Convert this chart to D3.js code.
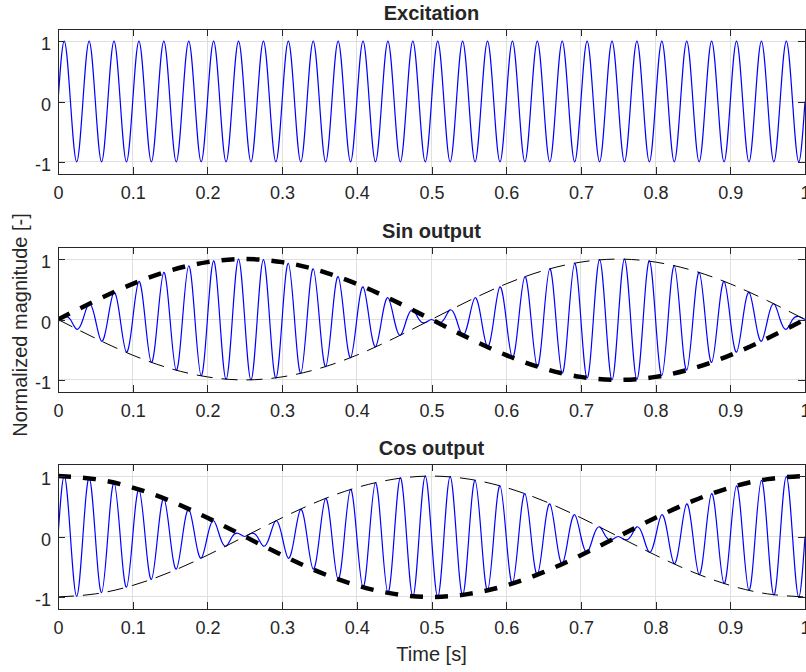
<!DOCTYPE html>
<html>
<head>
<meta charset="utf-8">
<script src="https://cdn.jsdelivr.net/npm/d3@7"></script>
<style>
  body { margin: 0; background: #fff; }
  svg { display: block; }
  text { font-family: "Liberation Sans", Arial, Helvetica, sans-serif; fill: #262626; }
</style>
</head>
<body>
<svg id="chart" width="806" height="672"></svg>
<script>
// Signal recorded at 120 samples per second over one second (121 samples).
const sampleRate = 120;

// Tick values and labels shared by all three panels
const xTicks = [0, 0.1, 0.2, 0.3, 0.4, 0.5, 0.6, 0.7, 0.8, 0.9, 1];
const xTickLabels = ["0", "0.1", "0.2", "0.3", "0.4", "0.5", "0.6", "0.7", "0.8", "0.9", "1"];
const yTicks = [-1, 0, 1];
const yTickLabels = ["-1", "0", "1"];

const panelTitles = ["Excitation", "Sin output", "Cos output"];

// 30 Hz excitation
const excitation = [
  0,1,0,-1,0,1,0,-1,0,1,0,-1,0,1,0,-1,0,1,0,-1,
  0,1,0,-1,0,1,0,-1,0,1,0,-1,0,1,0,-1,0,1,0,-1,
  0,1,0,-1,0,1,0,-1,0,1,0,-1,0,1,0,-1,0,1,0,-1,
  0,1,0,-1,0,1,0,-1,0,1,0,-1,0,1,0,-1,0,1,0,-1,
  0,1,0,-1,0,1,0,-1,0,1,0,-1,0,1,0,-1,0,1,0,-1,
  0,1,0,-1,0,1,0,-1,0,1,0,-1,0,1,0,-1,0,1,0,-1,
  0
];

// Sin-channel output
const sinOutput = [
  0,0.05,0,-0.16,0,0.26,0,-0.36,0,0.45,0,-0.54,0,0.63,0,-0.71,0,0.78,0,-0.84,
  0,0.89,0,-0.93,0,0.97,0,-0.99,0,1.00,0,-1.00,0,0.99,0,-0.97,0,0.93,0,-0.89,
  0,0.84,0,-0.78,0,0.71,0,-0.63,0,0.54,0,-0.45,0,0.36,0,-0.26,0,0.16,0,-0.05,
  0,-0.05,0,0.16,0,-0.26,0,0.36,0,-0.45,0,0.54,0,-0.63,0,0.71,0,-0.78,0,0.84,
  0,-0.89,0,0.93,0,-0.97,0,0.99,0,-1.00,0,1.00,0,-0.99,0,0.97,0,-0.93,0,0.89,
  0,-0.84,0,0.78,0,-0.71,0,0.63,0,-0.54,0,0.45,0,-0.36,0,0.26,0,-0.16,0,0.05,
  0
];

// Cos-channel output
const cosOutput = [
  0,1.00,0,-0.99,0,0.97,0,-0.93,0,0.89,0,-0.84,0,0.78,0,-0.71,0,0.63,0,-0.54,
  0,0.45,0,-0.36,0,0.26,0,-0.16,0,0.05,0,0.05,0,-0.16,0,0.26,0,-0.36,0,0.45,
  0,-0.54,0,0.63,0,-0.71,0,0.78,0,-0.84,0,0.89,0,-0.93,0,0.97,0,-0.99,0,1.00,
  0,-1.00,0,0.99,0,-0.97,0,0.93,0,-0.89,0,0.84,0,-0.78,0,0.71,0,-0.63,0,0.54,
  0,-0.45,0,0.36,0,-0.26,0,0.16,0,-0.05,0,-0.05,0,0.16,0,-0.26,0,0.36,0,-0.45,
  0,0.54,0,-0.63,0,0.71,0,-0.78,0,0.84,0,-0.89,0,0.93,0,-0.97,0,0.99,0,-1.00,
  0
];

// Reference envelopes (1 Hz), sampled every 0.05 s
const envelopeTimes = [0,0.05,0.1,0.15,0.2,0.25,0.3,0.35,0.4,0.45,0.5,0.55,0.6,0.65,0.7,0.75,0.8,0.85,0.9,0.95,1];
const sinEnvelope = [0,0.31,0.59,0.81,0.95,1,0.95,0.81,0.59,0.31,0,-0.31,-0.59,-0.81,-0.95,-1,-0.95,-0.81,-0.59,-0.31,0];
const sinEnvelopeMirror = [0,-0.31,-0.59,-0.81,-0.95,-1,-0.95,-0.81,-0.59,-0.31,0,0.31,0.59,0.81,0.95,1,0.95,0.81,0.59,0.31,0];
const cosEnvelope = [1,0.95,0.81,0.59,0.31,0,-0.31,-0.59,-0.81,-0.95,-1,-0.95,-0.81,-0.59,-0.31,0,0.31,0.59,0.81,0.95,1];
const cosEnvelopeMirror = [-1,-0.95,-0.81,-0.59,-0.31,0,0.31,0.59,0.81,0.95,1,0.95,0.81,0.59,0.31,0,-0.31,-0.59,-0.81,-0.95,-1];

const panels = [
  { title: panelTitles[0], signal: excitation, env: null, mirror: null },
  { title: panelTitles[1], signal: sinOutput, env: sinEnvelope, mirror: sinEnvelopeMirror },
  { title: panelTitles[2], signal: cosOutput, env: cosEnvelope, mirror: cosEnvelopeMirror }
];

// Layout
const svg = d3.select("#chart");
const plotLeft = 58, plotRight = 805;
const panelTops = [29, 247, 464];
const panelH = 145;
const tickLen = 7;
const axisColor = "#262626";
const gridColor = "#dfdfdf";

const x = d3.scaleLinear().domain([0, 1]).range([plotLeft, plotRight]);
const y = d3.scaleLinear().domain([-1.2, 1.2]).range([panelH, 0]);

const sampleTime = i => i / sampleRate;

const signalLine = d3.line()
  .x((d, i) => x(sampleTime(i)))
  .y(d => y(d))
  .curve(d3.curveNatural);

const envLine = d3.line()
  .x((d, i) => x(envelopeTimes[i]))
  .y(d => y(d))
  .curve(d3.curveNatural);

svg.append("defs").append("clipPath").attr("id", "plot-clip")
  .append("rect")
  .attr("x", plotLeft).attr("y", 0)
  .attr("width", plotRight - plotLeft).attr("height", panelH);

panels.forEach((p, idx) => {
  const g = svg.append("g").attr("transform", `translate(0,${panelTops[idx]})`);

  // grid
  const grid = g.append("g").attr("shape-rendering", "crispEdges");
  grid.selectAll(".gx").data(xTicks).join("line")
    .attr("x1", d => x(d)).attr("x2", d => x(d))
    .attr("y1", 0).attr("y2", panelH)
    .attr("stroke", gridColor).attr("stroke-width", 1);
  grid.selectAll(".gy").data(yTicks).join("line")
    .attr("x1", plotLeft).attr("x2", plotRight)
    .attr("y1", d => y(d)).attr("y2", d => y(d))
    .attr("stroke", gridColor).attr("stroke-width", 1);

  // data
  const plot = g.append("g").attr("clip-path", "url(#plot-clip)");
  plot.append("path")
    .attr("d", signalLine(p.signal))
    .attr("fill", "none")
    .attr("stroke", "#0000ff")
    .attr("stroke-width", 1.2);

  if (p.env) {
    plot.append("path")
      .attr("d", envLine(p.env))
      .attr("fill", "none")
      .attr("stroke", "#000")
      .attr("stroke-width", 4.5)
      .attr("stroke-dasharray", "13,12");
    plot.append("path")
      .attr("d", envLine(p.mirror))
      .attr("fill", "none")
      .attr("stroke", "#000")
      .attr("stroke-width", 1)
      .attr("stroke-dasharray", "16,9");
  }

  // axes with inward ticks on all four sides
  const fmtX = (d, i) => xTickLabels[i];
  const fmtY = (d, i) => yTickLabels[i];

  const bottom = g.append("g").attr("transform", `translate(0,${panelH})`)
    .call(d3.axisBottom(x).tickValues(xTicks).tickFormat(fmtX).tickSizeInner(-tickLen).tickSizeOuter(0).tickPadding(0));
  const top = g.append("g")
    .call(d3.axisTop(x).tickValues(xTicks).tickFormat("").tickSizeInner(-tickLen).tickSizeOuter(0));
  const left = g.append("g").attr("transform", `translate(${plotLeft},0)`)
    .call(d3.axisLeft(y).tickValues(yTicks).tickFormat(fmtY).tickSizeInner(-tickLen).tickSizeOuter(0).tickPadding(7));
  const right = g.append("g").attr("transform", `translate(${plotRight},0)`)
    .call(d3.axisRight(y).tickValues(yTicks).tickFormat("").tickSizeInner(-tickLen).tickSizeOuter(0));

  [bottom, top, left, right].forEach(a => {
    a.select(".domain").remove();
    a.selectAll("line").attr("stroke", axisColor).attr("shape-rendering", "crispEdges");
    a.selectAll("text").attr("fill", axisColor).attr("font-family", null).attr("font-size", 18);
  });
  bottom.selectAll("text").attr("y", 25).attr("dy", 0);
  left.selectAll("text").attr("dy", "0.48em");

  // box
  g.append("rect")
    .attr("x", plotLeft).attr("y", 0)
    .attr("width", plotRight - plotLeft).attr("height", panelH)
    .attr("fill", "none").attr("stroke", axisColor).attr("stroke-width", 1)
    .attr("shape-rendering", "crispEdges");

  // title
  g.append("text")
    .attr("x", (plotLeft + plotRight) / 2).attr("y", -9)
    .attr("text-anchor", "middle")
    .attr("font-size", 20).attr("font-weight", "bold")
    .attr("fill", "#000")
    .text(p.title);
});

// shared axis labels
svg.append("text")
  .attr("x", (plotLeft + plotRight) / 2).attr("y", 661)
  .attr("text-anchor", "middle").attr("font-size", 20)
  .text("Time [s]");

svg.append("text")
  .attr("transform", "translate(27,325) rotate(-90)")
  .attr("text-anchor", "middle").attr("font-size", 20)
  .text("Normalized magnitude [-]");
</script>
</body>
</html>
